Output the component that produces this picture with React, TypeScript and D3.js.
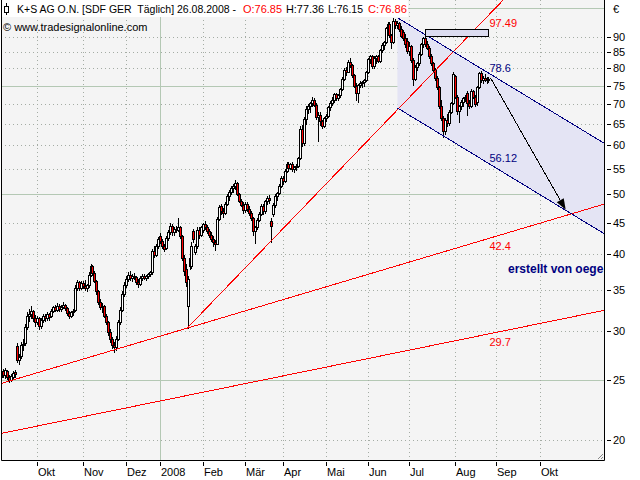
import React from 'react';
import * as d3 from 'd3';

// one tuple per trading day: open, high, low, close
type Bar = [number, number, number, number];
type Pt = [number, number]; // bar index, price

const sep07: Bar[] = [
  [25.3, 26.3, 25.1, 25.8], [25.9, 26.1, 25.3, 25.5], [25.5, 26.2, 25.2, 26.0], [25.9, 26.0, 25.1, 25.3],
  [25.3, 25.5, 24.8, 25.0], [25.0, 25.6, 24.9, 25.4], [25.3, 25.9, 25.2, 25.7], [25.8, 26.0, 25.3, 25.6],
  [28.4, 28.7, 26.8, 27.0], [27.0, 27.6, 26.6, 27.3], [27.4, 28.8, 27.2, 28.5], [28.5, 29.2, 28.0, 28.6],
  [28.7, 30.8, 28.5, 30.5], [30.5, 32.2, 30.2, 31.8], [31.8, 32.6, 31.2, 32.0], [32.0, 33.0, 31.5, 32.4],
  [32.4, 32.5, 31.2, 31.5], [31.5, 31.9, 30.6, 31.0],
];
const oct07: Bar[] = [
  [31.0, 31.8, 30.8, 31.5], [31.5, 31.6, 30.2, 30.6], [30.6, 31.5, 30.4, 31.3], [31.3, 32.0, 31.0, 31.8],
  [31.8, 32.0, 31.2, 31.5], [31.5, 32.2, 31.3, 32.0], [32.0, 32.1, 31.3, 31.6], [31.7, 32.6, 31.6, 32.4],
  [32.4, 33.0, 32.2, 32.8], [32.8, 33.1, 32.3, 32.5], [32.5, 33.3, 32.4, 33.0], [33.0, 33.2, 32.4, 32.6],
  [32.6, 33.1, 32.4, 32.9], [32.9, 33.4, 32.7, 33.1], [33.1, 33.2, 32.5, 32.7], [32.7, 32.8, 31.9, 32.1],
  [32.1, 32.4, 31.5, 31.7], [31.7, 32.4, 31.6, 32.2], [32.2, 32.6, 31.9, 32.4], [32.5, 35.6, 32.4, 35.3],
  [35.3, 36.3, 35.0, 36.0], [36.0, 36.2, 35.0, 35.3], [35.3, 36.2, 35.1, 35.9],
];
const nov07: Bar[] = [
  [35.9, 36.2, 35.2, 35.5], [35.5, 36.3, 35.0, 35.2], [35.2, 35.8, 34.8, 35.6], [35.6, 37.4, 35.4, 37.0],
  [37.0, 38.5, 36.8, 38.2], [38.2, 38.4, 37.0, 37.3], [37.3, 37.5, 36.0, 36.2], [36.2, 36.3, 34.5, 34.8],
  [34.8, 35.0, 33.2, 33.5], [33.5, 33.9, 32.6, 32.9], [32.9, 33.3, 32.2, 33.0], [33.0, 33.1, 31.6, 31.8],
  [31.8, 32.0, 30.8, 31.0], [31.0, 31.2, 29.6, 29.9], [29.9, 30.2, 28.8, 29.1], [29.1, 29.4, 28.2, 28.5],
  [28.5, 28.8, 27.8, 28.3], [28.3, 29.5, 28.0, 29.2], [29.2, 31.3, 29.0, 31.0], [31.0, 32.8, 30.8, 32.5],
  [32.5, 34.8, 32.3, 34.5], [34.5, 36.0, 34.2, 35.6],
];
const dec07: Bar[] = [
  [35.6, 36.8, 35.4, 36.5], [36.5, 37.4, 36.2, 37.0], [37.0, 37.5, 36.3, 36.6], [36.6, 37.2, 36.2, 36.9],
  [36.9, 37.3, 36.4, 36.7], [36.7, 36.9, 35.8, 36.1], [36.1, 36.5, 35.4, 35.8], [35.8, 36.8, 35.6, 36.6],
  [36.6, 37.1, 36.3, 36.9], [36.9, 37.2, 36.4, 36.6], [36.6, 37.0, 36.3, 36.8], [36.8, 37.3, 36.6, 37.1],
  [37.1, 37.6, 36.8, 37.4], [37.4, 40.8, 37.2, 40.4], [40.4, 41.2, 39.6, 39.9], [39.9, 41.6, 39.7, 41.3],
  [41.3, 42.7, 41.0, 42.4],
];
const jan08: Bar[] = [
  [42.8, 43.3, 41.7, 42.0], [42.0, 42.3, 40.9, 41.2], [41.2, 41.5, 40.5, 40.8], [40.9, 42.8, 40.7, 42.5],
  [42.5, 43.8, 42.2, 43.5], [43.5, 45.0, 43.2, 44.5], [44.5, 44.8, 43.0, 43.4], [43.4, 44.3, 43.0, 44.0],
  [44.0, 44.5, 43.4, 43.8], [43.8, 45.8, 43.6, 44.2], [44.2, 44.5, 42.5, 42.8], [42.8, 43.0, 39.2, 39.5],
  [39.5, 39.8, 37.0, 37.5], [37.8, 38.5, 35.5, 36.0], [33.0, 36.8, 30.4, 36.4], [39.5, 40.0, 37.8, 38.2],
  [38.2, 41.8, 38.0, 41.2], [43.6, 43.9, 41.8, 42.3], [40.3, 41.5, 40.0, 41.2], [41.2, 44.2, 41.0, 43.8],
  [43.8, 44.3, 42.5, 43.0], [43.0, 44.5, 42.8, 44.2],
];
const feb08: Bar[] = [
  [43.8, 45.0, 43.5, 44.8], [44.8, 45.2, 44.0, 44.3], [44.3, 44.6, 43.3, 43.6], [43.6, 43.9, 42.6, 42.9],
  [42.9, 43.4, 42.0, 42.3], [42.3, 42.8, 41.3, 41.8], [41.8, 42.2, 40.6, 41.5], [41.6, 46.0, 41.5, 45.6],
  [45.6, 48.0, 45.4, 47.6], [47.8, 48.3, 46.5, 46.9], [46.9, 47.5, 46.0, 46.6], [46.7, 48.5, 46.5, 48.3],
  [48.3, 50.0, 48.0, 49.6], [49.6, 50.8, 49.0, 50.5], [50.5, 51.5, 50.0, 51.2], [51.2, 52.0, 50.4, 51.6],
  [51.6, 52.7, 51.0, 52.2], [52.2, 52.4, 49.8, 50.0], [50.0, 50.3, 48.5, 48.8], [48.8, 49.2, 47.8, 48.1],
  [48.1, 48.6, 46.6, 47.2],
];
const mar08: Bar[] = [
  [47.2, 48.6, 46.8, 48.3], [48.3, 48.6, 47.0, 47.4], [47.4, 47.8, 46.3, 46.6], [46.6, 46.9, 45.4, 45.8],
  [45.8, 46.0, 43.0, 43.6], [43.6, 44.5, 41.7, 44.2], [44.2, 45.8, 44.0, 45.5], [45.5, 46.8, 45.2, 46.5],
  [46.5, 48.2, 46.3, 47.9], [47.9, 48.2, 46.5, 46.9], [46.9, 49.0, 46.6, 48.8], [48.8, 49.6, 48.2, 49.3],
  [49.3, 49.8, 48.4, 48.9], [45.3, 45.8, 41.8, 44.4], [46.5, 48.4, 46.2, 48.1], [48.1, 50.0, 47.6, 49.6],
  [49.6, 50.5, 49.0, 50.2], [50.2, 52.0, 50.0, 51.6], [51.6, 53.6, 51.3, 53.2],
];
const apr08: Bar[] = [
  [53.2, 53.6, 52.0, 52.6], [52.6, 54.9, 52.3, 54.6], [54.6, 56.4, 54.3, 56.0], [56.0, 56.5, 54.8, 55.2],
  [55.2, 56.2, 54.9, 55.9], [55.9, 56.3, 54.6, 55.0], [55.0, 55.6, 54.3, 55.3], [55.3, 56.0, 54.8, 55.6],
  [55.6, 57.5, 55.4, 57.2], [57.2, 64.5, 57.0, 63.8], [63.8, 64.8, 59.8, 60.5], [60.5, 66.8, 60.2, 66.2],
  [66.2, 69.6, 65.0, 68.8], [68.8, 70.0, 67.8, 69.5], [69.5, 70.5, 68.0, 70.2], [70.2, 71.9, 69.6, 71.0],
  [71.0, 71.5, 69.5, 69.8], [69.8, 70.2, 66.2, 66.6], [66.6, 68.0, 61.0, 67.2], [67.2, 68.0, 64.8, 65.6],
  [65.6, 65.9, 64.0, 64.6], [64.6, 66.8, 64.2, 66.4],
];
const may08: Bar[] = [
  [66.4, 67.5, 65.8, 67.0], [67.0, 69.5, 66.8, 69.2], [69.2, 70.8, 68.5, 70.4], [70.4, 71.9, 69.8, 71.2],
  [71.2, 73.0, 70.6, 72.6], [72.6, 73.0, 71.0, 71.5], [71.5, 72.8, 71.2, 72.4], [72.4, 74.4, 72.0, 74.0],
  [74.0, 77.5, 73.8, 77.0], [77.0, 80.0, 76.5, 79.5], [79.5, 80.4, 78.0, 79.0], [79.0, 82.6, 78.8, 82.0],
  [82.0, 83.2, 80.5, 81.0], [81.0, 81.4, 77.5, 78.0], [78.0, 78.4, 74.5, 75.0], [75.0, 75.6, 71.0, 73.0],
  [73.0, 75.5, 70.5, 75.2], [75.2, 76.2, 74.5, 75.8], [75.8, 76.4, 74.6, 76.0], [76.0, 77.0, 75.0, 76.6],
  [76.6, 79.2, 76.2, 78.8],
];
const jun08: Bar[] = [
  [78.8, 83.2, 78.5, 82.8], [82.8, 84.2, 81.5, 83.8], [83.8, 84.0, 80.0, 80.6], [80.6, 83.8, 80.2, 83.2],
  [83.2, 84.0, 81.5, 83.6], [83.6, 84.2, 81.8, 82.2], [82.2, 86.0, 82.0, 85.5], [85.5, 88.0, 85.0, 87.4],
  [87.4, 88.6, 86.0, 88.2], [88.2, 93.2, 87.8, 92.8], [92.8, 95.2, 91.0, 94.5], [94.5, 95.0, 90.0, 90.6],
  [90.6, 91.0, 86.2, 88.4], [88.4, 96.6, 88.0, 95.6], [95.6, 96.2, 93.0, 94.0], [94.0, 95.4, 92.8, 94.8],
  [94.8, 95.0, 92.0, 92.5], [92.5, 93.5, 90.0, 90.4], [91.5, 92.2, 89.0, 89.5], [89.5, 91.0, 86.5, 87.5],
  [88.5, 89.5, 84.6, 85.2],
];
const jul08: Bar[] = [
  [85.2, 88.2, 84.0, 86.8], [86.8, 87.2, 82.0, 82.6], [82.6, 83.2, 75.2, 77.0], [77.0, 81.0, 76.5, 80.4],
  [80.4, 82.0, 79.5, 81.5], [81.5, 85.0, 81.0, 84.5], [84.5, 88.0, 84.0, 87.5], [87.5, 90.0, 86.5, 89.4],
  [89.4, 89.8, 87.0, 87.6], [87.6, 88.5, 86.0, 86.4], [86.4, 86.8, 83.0, 83.6], [83.6, 84.5, 81.0, 81.6],
  [81.6, 82.0, 79.0, 79.4], [79.4, 80.0, 76.5, 77.2], [77.2, 77.8, 74.0, 74.5], [74.5, 75.0, 69.0, 69.6],
  [69.6, 71.0, 66.0, 66.5], [66.5, 67.0, 62.0, 63.2], [63.2, 66.5, 62.5, 66.0], [66.0, 67.5, 64.5, 65.2],
  [65.2, 68.5, 64.8, 68.0], [68.0, 70.6, 67.6, 70.2], [70.2, 79.0, 70.0, 78.4],
];
const aug08: Bar[] = [
  [77.6, 78.0, 71.5, 72.0], [72.0, 72.5, 67.5, 68.2], [68.2, 69.8, 65.5, 69.4], [69.4, 71.0, 68.8, 70.6],
  [70.6, 72.0, 69.5, 71.5], [71.5, 72.4, 70.8, 72.0], [73.0, 73.5, 67.2, 70.2], [70.2, 71.0, 69.0, 69.4],
  [69.4, 74.0, 69.2, 73.5], [73.5, 73.8, 71.5, 72.0], [72.0, 72.4, 69.4, 70.0], [70.5, 75.0, 69.8, 74.6],
  [74.6, 79.0, 74.2, 78.5], [78.5, 79.2, 76.0, 76.5], [76.5, 77.6, 75.6, 77.2], [77.2, 78.2, 76.2, 76.6],
  [76.6, 77.4, 75.8, 76.9], [76.85, 77.36, 76.15, 76.86],
];

const bars: Bar[] = [
  ...sep07, ...oct07, ...nov07, ...dec07, ...jan08, ...feb08,
  ...mar08, ...apr08, ...may08, ...jun08, ...jul08, ...aug08,
];

// month ticks: label and index of the first trading day
const monthLabels = ['Okt', 'Nov', 'Dez', '2008', 'Feb', 'Mär', 'Apr', 'Mai', 'Jun', 'Jul', 'Aug', 'Sep', 'Okt'];
const monthStarts = [18, 41, 63, 80, 102, 123, 142, 164, 185, 206, 229, 250, 272];
const priceTicks = [90, 85, 80, 75, 70, 65, 60, 55, 50, 45, 40, 35, 30, 25, 20];
const majorLevels = [25, 50, 75, 100];

// drawing tools (index, price)
const upperRed: Pt[] = [[94, 30.4], [246, 97.49]];
const midRed: Pt[] = [[0, 24.7], [246, 42.4]];
const lowRed: Pt[] = [[0, 20.5], [246, 29.7]];
const channelTop: Pt[] = [[200, 96.6], [246, 78.6]];
const channelBottom: Pt[] = [[200, 69.0], [246, 56.12]];
const boxCorners: Pt[] = [[214, 92.7], [246, 90.4]];
const arrowPts: Pt[] = [[247, 77.2], [285, 47.2]];

const lineLabels = ['97.49', '78.6', '56.12', '42.4', '29.7'];

// title pieces: text, colour, left, right, size
const titleParts: [string, string, number, number, number][] = [
  ['K+S AG O.N. [SDF GER  Täglich] 26.08.2008 -', '#000000', 17, 236, 10],
  ['O:76.85', '#ff0000', 243, 282, 11],
  ['H:77.36', '#000000', 286, 324, 11],
  ['L:76.15', '#000000', 328, 363, 11],
  ['C:76.86', '#ff0000', 368, 407, 11],
];

const FONT = '"Liberation Sans", Arial, sans-serif';
const NAVY = '#000080';
const RED = '#ff0000';
const GREEN = '#b4c8b4';
const DOT = '#a4aca4';

const L = 1, T = 0, R = 604, B = 460;

export default function App() {
  const x = d3.scaleLinear().domain([0, 305]).range([1.4, 605.3]);
  const y = d3.scaleLog().domain([20, 90]).range([440, 36.7]);

  const px = (p: Pt) => [x(p[0]), y(p[1])];
  // y along the straight (pixel) line through two anchors
  const along = (pts: Pt[], xv: number) => {
    const [x1, y1] = px(pts[0]);
    const [x2, y2] = px(pts[1]);
    return y1 + ((y2 - y1) / (x2 - x1)) * (xv - x1);
  };
  const ext = (pts: Pt[], i0: number, i1: number) => {
    const xa = x(i0), xb = x(i1);
    return { x1: xa, y1: along(pts, xa), x2: xb, y2: along(pts, xb) };
  };

  const cX = x(channelTop[0][0]);
  const cR = x(305);
  const channelPoly = [
    [cX, along(channelTop, cX)], [cR, along(channelTop, cR)],
    [cR, along(channelBottom, cR)], [cX, along(channelBottom, cX)],
  ].map(p => p.join(',')).join(' ');

  const lastX = x(246) + 1;
  const labelPos = [
    { y: along(upperRed, x(246)) + 11.5, c: RED },
    { y: along(channelTop, x(246)) - 1, c: NAVY },
    { y: along(channelBottom, x(246)) - 1, c: NAVY },
    { y: along(midRed, x(246)) + 11, c: RED },
    { y: along(lowRed, x(246)) + 12, c: RED },
  ];

  const [ax1, ay1] = px(arrowPts[0]);
  const [ax2, ay2] = px(arrowPts[1]);
  const ang = Math.atan2(ay2 - ay1, ax2 - ax1);
  const head = 11, half = 4;
  const bx = ax2 - head * Math.cos(ang), by = ay2 - head * Math.sin(ang);
  const arrowHead = [
    [ax2, ay2],
    [bx + half * Math.sin(ang), by - half * Math.cos(ang)],
    [bx - half * Math.sin(ang), by + half * Math.cos(ang)],
  ].map(p => p.join(',')).join(' ');

  const [bx1, by1] = px(boxCorners[0]);
  const [bx2, by2] = px(boxCorners[1]);

  const snap = (v: number) => Math.round(v) + 0.5;

  return (
    <div style={{ position: 'fixed', left: 0, top: 0 }}>
      <svg width={640} height={480} style={{ display: 'block', fontFamily: FONT }}>
        <defs>
          <clipPath id="plot">
            <rect x={L} y={T} width={R - L} height={B - T} />
          </clipPath>
        </defs>
        <rect width={640} height={480} fill="#ffffff" />
        <rect x={L} y={T} width={R - L} height={B - T} fill="#f4f4f4" />

        <g clipPath="url(#plot)">
          {priceTicks.filter(v => !majorLevels.includes(v)).map(v => (
            <line key={'h' + v} x1={L} x2={R} y1={snap(y(v))} y2={snap(y(v))}
              stroke={DOT} strokeDasharray="1 3" />
          ))}
          {majorLevels.map(v => (
            <line key={'m' + v} x1={L} x2={R} y1={snap(y(v))} y2={snap(y(v))} stroke={GREEN} />
          ))}
          {monthStarts.map((i, k) => (
            <line key={'v' + k} x1={snap(x(i))} x2={snap(x(i))} y1={T} y2={B}
              stroke={monthLabels[k] === '2008' ? GREEN : DOT}
              strokeDasharray={monthLabels[k] === '2008' ? undefined : '1 3'} />
          ))}

          <polygon points={channelPoly} fill="#e4e4f4" />

          {bars.map((b, i) => {
            const [o, h, l, c] = b;
            const cx = Math.round(x(i));
            const top = Math.round(y(Math.max(o, c)));
            const bot = Math.round(y(Math.min(o, c)));
            return (
              <g key={i}>
                <line x1={cx + 0.5} x2={cx + 0.5} y1={Math.round(y(h))} y2={Math.round(y(l)) + 1}
                  stroke="#000" shapeRendering="crispEdges" />
                <rect x={cx - 0.5} y={top + 0.5} width={2} height={Math.max(bot - top, 1)}
                  fill={c < o ? RED : '#ffffff'} stroke="#000" shapeRendering="crispEdges" />
              </g>
            );
          })}

          <line {...ext(upperRed, 94, 305)} stroke={RED} shapeRendering="crispEdges" />
          <line {...ext(midRed, -1, 305)} stroke={RED} shapeRendering="crispEdges" />
          <line {...ext(lowRed, -1, 305)} stroke={RED} shapeRendering="crispEdges" />
          <line {...ext(channelTop, 200, 305)} stroke={NAVY} shapeRendering="crispEdges" />
          <line {...ext(channelBottom, 200, 305)} stroke={NAVY} shapeRendering="crispEdges" />

          <rect x={snap(bx1)} y={snap(by1)} width={Math.round(bx2 - bx1)} height={Math.round(by2 - by1)}
            fill="#dcdcf0" stroke="#000" />

          <line x1={ax1} y1={ay1} x2={bx} y2={by} stroke="#000" shapeRendering="crispEdges" />
          <polygon points={arrowHead} fill="#000" />

          {lineLabels.map((t, k) => (
            <text key={t} x={lastX} y={labelPos[k].y} fontSize={11} fill={labelPos[k].c}>{t}</text>
          ))}

          <text x={508} y={273} fontSize={12} fontWeight="bold" fill={NAVY}>erstellt von oege</text>
        </g>

        {/* title box */}
        <rect x={0} y={0} width={408} height={17} fill="#ffffff" />
        <g stroke="#000" shapeRendering="crispEdges">
          <line x1={6.5} x2={6.5} y1={3} y2={15} />
          <rect x={4.5} y={6.5} width={4} height={6} fill="#ffffff" />
        </g>
        {titleParts.map(([t, c, a, b, s]) => (
          <text key={t} x={a} y={13} fontSize={s} fill={c} textLength={b - a}
            lengthAdjust="spacingAndGlyphs" style={{ whiteSpace: 'pre' }}>{t}</text>
        ))}
        <text x={3} y={31} fontSize={11} fill="#000">© www.tradesignalonline.com</text>

        {/* frame */}
        <path d={`M${L + 0.5},${T} V${B + 0.5} H${R + 0.5} V${T}`} fill="none" stroke="#000" />
        <path d={`M${R - 6},${B - 1} L${R - 1},${B - 6} M${R - 3},${B - 1} L${R - 1},${B - 3}`}
          stroke="#888" fill="none" />

        {/* right price axis */}
        <text x={613} y={13} fontSize={11}>€</text>
        {priceTicks.map(v => (
          <g key={'t' + v}>
            <line x1={607} x2={611} y1={snap(y(v))} y2={snap(y(v))} stroke="#000" />
            <text x={613} y={y(v) + 4} fontSize={11} fill="#000">{v}</text>
          </g>
        ))}

        {/* bottom time axis */}
        {monthStarts.map((i, k) => (
          <g key={'x' + k}>
            <line x1={snap(x(i))} x2={snap(x(i))} y1={462} y2={466} stroke="#000" />
            <text x={Math.round(x(i)) + 1} y={476} fontSize={11} fill="#000">{monthLabels[k]}</text>
          </g>
        ))}
      </svg>
    </div>
  );
}
